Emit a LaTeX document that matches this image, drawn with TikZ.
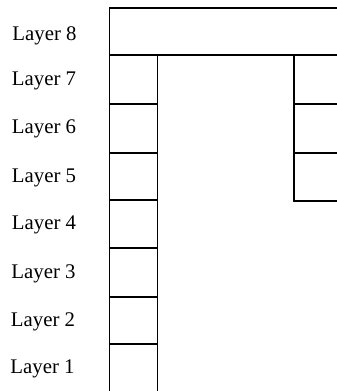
\documentclass[tikz,border=0pt]{standalone}
\usepackage{fontspec}
\setmainfont{Liberation Serif}
\begin{document}
\begin{tikzpicture}[x=1pt,y=-1pt,
  gridline/.style={line width=1.6pt,black},
  lab/.style={font=\fontsize{20.8}{24}\selectfont,inner sep=0pt}]
\useasboundingbox (0,0) rectangle (337,391);
% layer 8 box
\draw[gridline] (337,8) -- (109.5,8) -- (109.5,391);
\draw[gridline] (109.5,55) -- (337,55);
% left column
\draw[gridline] (157.5,55) -- (157.5,391);
\foreach \y in {104,153,200,248,297,344}
  \draw[gridline] (109.5,\y) -- (157.5,\y);
% right column
\draw[gridline] (294,55) -- (294,201) -- (337,201);
\foreach \y in {104,153}
  \draw[gridline] (294,\y) -- (337,\y);
% labels
\node[lab] (l8) at (44.5,36) {Layer 8};
\node[lab] (l7) at (44,81) {Layer 7};
\node[lab] (l6) at (44,129) {Layer 6};
\node[lab] (l5) at (44,178) {Layer 5};
\node[lab] (l4) at (44,225) {Layer 4};
\node[lab] (l3) at (43.5,274) {Layer 3};
\node[lab] (l2) at (43,322) {Layer 2};
\node[lab] (l1) at (42.5,369) {Layer 1};
\end{tikzpicture}
\end{document}
